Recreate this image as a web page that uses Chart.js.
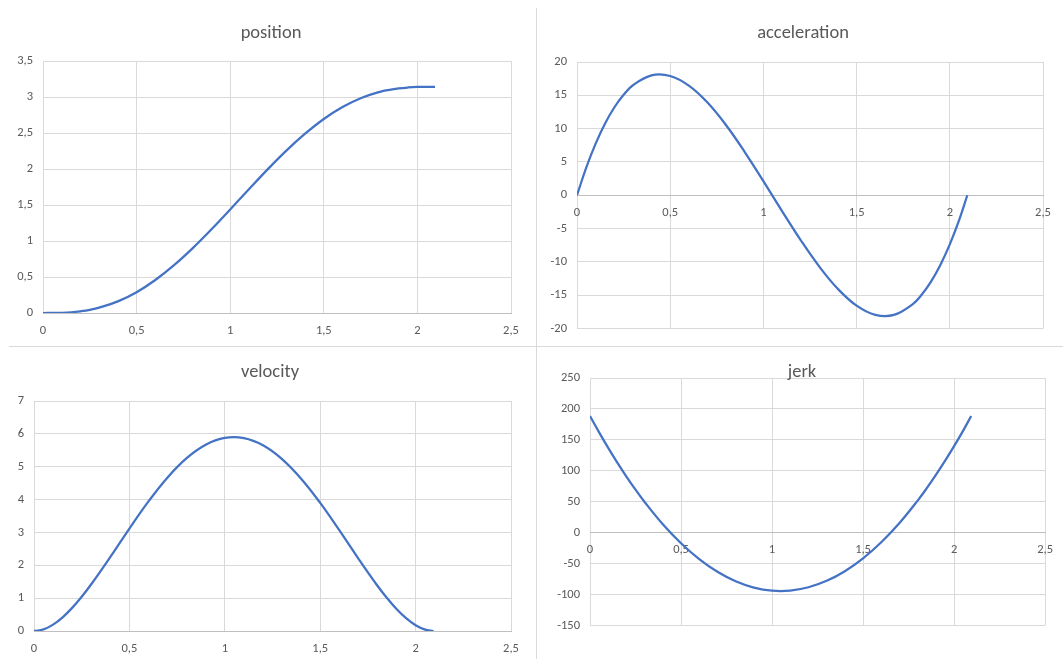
<!DOCTYPE html>
<html>
<head>
<meta charset="utf-8">
<script src="https://cdn.jsdelivr.net/npm/chart.js@4.4.0/dist/chart.umd.min.js"></script>
<style>
  body { margin: 0; background: #fff; }
  #page { position: relative; width: 1063px; height: 659px; overflow: hidden; }
  canvas { position: absolute; }
  .sep { position: absolute; background: #d9d9d9; }
</style>
</head>
<body>
<div id="page">
  <canvas id="positionChart" width="536" height="346" style="left:0;top:0"></canvas>
  <canvas id="accelerationChart" width="526" height="346" style="left:537px;top:0"></canvas>
  <canvas id="velocityChart" width="536" height="312" style="left:0;top:347px"></canvas>
  <canvas id="jerkChart" width="526" height="312" style="left:537px;top:347px"></canvas>
  <div class="sep" style="left:536px;top:8px;width:1px;height:651px"></div>
  <div class="sep" style="left:9px;top:346px;width:1054px;height:1px"></div>
</div>
<script>
// time (s)
const tValues = [0, 0.05, 0.1, 0.15, 0.2, 0.25, 0.3, 0.4, 0.5, 0.6, 0.7, 0.8, 0.9, 1.0, 1.1, 1.2, 1.3,
    1.4, 1.5, 1.6, 1.7, 1.8, 1.85, 1.9, 1.95, 2.0, 2.05, 2.094];

const positionValues = [0, 0.0004, 0.003, 0.010, 0.024, 0.044, 0.074, 0.161, 0.289, 0.458, 0.664, 0.901,
    1.162, 1.438, 1.719, 1.995, 2.255, 2.490, 2.695, 2.861, 2.987, 3.072, 3.100, 3.120, 3.132, 3.139, 3.141, 3.142];
const velocityValues = [0, 0.051, 0.195, 0.417, 0.704, 1.043, 1.422, 2.254, 3.118, 3.944, 4.674, 5.261,
    5.669, 5.876, 5.870, 5.652, 5.232, 4.636, 3.900, 3.070, 2.205, 1.378, 1.003, 0.669, 0.389, 0.175, 0.041, 0];
const accelerationValues = [0, 4.18, 7.75, 10.74, 13.17, 15.08, 16.51, 18.00, 17.90, 16.45, 13.91, 10.51,
    6.49, 2.12, -2.37, -6.73, -10.71, -14.07, -16.57, -17.95, -17.96, -16.37, -14.90, -12.93, -10.43, -7.38, -3.75, 0];
const jerkValues = [188.5, 162.1, 137.1, 113.3, 90.8, 69.6, 49.7, 13.7, -17.0, -42.7, -63.2, -78.5,
    -88.7, -93.7, -93.5, -88.2, -77.8, -62.2, -41.4, -15.5, 15.6, 51.9, 71.9, 93.3, 115.9, 139.8, 165.0, 188.5];

const xTickLabels = ['0', '0,5', '1', '1,5', '2', '2,5'];

const FONT = 'Carlito, Calibri, Lato, sans-serif';
const TEXT_COLOR = '#595959';

// Excel puts the chart title where it likes, not centred on the canvas
const chartTitle = {
    id: 'chartTitle',
    afterDraw(chart, args, opts) {
        const ctx = chart.ctx;
        ctx.save();
        ctx.font = `18.5px ${FONT}`;
        ctx.fillStyle = TEXT_COLOR;
        ctx.textAlign = 'center';
        ctx.textBaseline = 'middle';
        ctx.fillText(opts.text, opts.x, opts.y);
        ctx.restore();
    },
};

function makeChart(id, title, values, yRange, canvasBox, plotBox, titleX, titleY, axisAtZero) {
    const xHeight = axisAtZero ? 0 : (canvasBox.top + canvasBox.height) - plotBox.bottom;
    const layoutBottom = axisAtZero ? (canvasBox.top + canvasBox.height) - plotBox.bottom : 0;

    const ctx = document.getElementById(id).getContext('2d');
    return new Chart(ctx, {
        type: 'scatter',
        data: {
            datasets: [{
                data: tValues.map((t, i) => ({ x: t, y: values[i] })),
                showLine: true,
                borderColor: '#4472C4',
                borderWidth: 2.25,
                pointRadius: 0,
                tension: 0.4,
                fill: false,
            }],
        },
        plugins: [chartTitle],
        options: {
            responsive: false,
            animation: false,
            layout: {
                padding: {
                    left: 0,
                    top: plotBox.top - canvasBox.top,
                    right: (canvasBox.left + canvasBox.width) - plotBox.right,
                    bottom: layoutBottom,
                },
            },
            plugins: {
                legend: { display: false },
                tooltip: { enabled: false },
                chartTitle: { text: title, x: titleX - canvasBox.left, y: titleY - canvasBox.top },
            },
            scales: {
                x: {
                    type: 'linear',
                    position: axisAtZero ? { y: 0 } : 'bottom',
                    min: 0,
                    max: 2.5,
                    ticks: {
                        stepSize: 0.5,
                        padding: 10,
                        color: TEXT_COLOR,
                        font: { family: FONT, size: 12.5 },
                        maxRotation: 0,
                        callback: (v) => xTickLabels[Math.round(v / 0.5)],
                    },
                    grid: { color: '#d9d9d9', lineWidth: 1, drawTicks: false },
                    border: { display: true, color: '#bfbfbf', width: 1 },
                    afterFit: (scale) => { scale.height = xHeight; },
                },
                y: {
                    min: yRange[0],
                    max: yRange[1],
                    ticks: {
                        stepSize: yRange[2],
                        padding: 10,
                        color: TEXT_COLOR,
                        font: { family: FONT, size: 12.5 },
                        callback: (v) => String(v).replace('.', ','),
                    },
                    grid: { color: '#d9d9d9', lineWidth: 1, drawTicks: false },
                    border: { display: false },
                    afterFit: (scale) => { scale.width = plotBox.left - canvasBox.left; },
                },
            },
        },
    });
}

makeChart('positionChart', 'position', positionValues, [0, 3.5, 0.5],
    { left: 0, top: 0, width: 536, height: 346 },
    { left: 43, top: 61, right: 511, bottom: 313 }, 271, 33, false);

makeChart('accelerationChart', 'acceleration', accelerationValues, [-20, 20, 5],
    { left: 537, top: 0, width: 526, height: 346 },
    { left: 577, top: 62, right: 1043, bottom: 330.5 }, 803, 33, true);

makeChart('velocityChart', 'velocity', velocityValues, [0, 7, 1],
    { left: 0, top: 347, width: 536, height: 312 },
    { left: 34, top: 401, right: 511, bottom: 631 }, 270, 372, false);

makeChart('jerkChart', 'jerk', jerkValues, [-150, 250, 50],
    { left: 537, top: 347, width: 526, height: 312 },
    { left: 590, top: 378, right: 1048, bottom: 625.5 }, 802, 372, true);
</script>
</body>
</html>
